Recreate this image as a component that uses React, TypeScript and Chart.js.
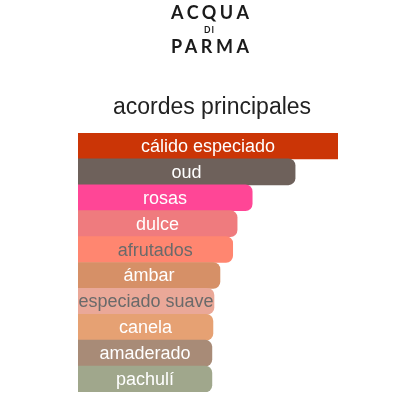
import React, { useEffect, useRef } from "react";
import { Chart, registerables } from "chart.js";

Chart.register(...registerables);

const categories = [
  "cálido especiado",
  "oud",
  "rosas",
  "dulce",
  "afrutados",
  "ámbar",
  "especiado suave",
  "canela",
  "amaderado",
  "pachulí",
];
const values = [100, 83.5, 67, 61.2, 59.5, 54.6, 52.3, 51.9, 51.5, 51.5];
const barColors = [
  "#CB3506",
  "#6E615B",
  "#FF4696",
  "#EF7B7E",
  "#FF8670",
  "#D69067",
  "#EAA898",
  "#E6A173",
  "#A88B77",
  "#A0A78C",
];
const labelColors = [
  "#ffffff",
  "#ffffff",
  "#ffffff",
  "#ffffff",
  "#6a6a6a",
  "#ffffff",
  "#6a6a6a",
  "#ffffff",
  "#ffffff",
  "#ffffff",
];

const labelPlugin = {
  id: "barLabels",
  afterDatasetsDraw(chart: any) {
    const ctx = chart.ctx;
    const meta = chart.getDatasetMeta(0);
    ctx.save();
    ctx.font = '18px "Liberation Sans", Arial, sans-serif';
    ctx.textAlign = "center";
    ctx.textBaseline = "middle";
    meta.data.forEach((bar: any, i: number) => {
      const cx = (bar.base + bar.x) / 2;
      ctx.fillStyle = labelColors[i];
      ctx.fillText(categories[i], cx, bar.y + 1);
    });
    ctx.restore();
  },
};

export default function App() {
  const ref = useRef<HTMLCanvasElement | null>(null);
  useEffect(() => {
    if (!ref.current) return;
    const chart = new Chart(ref.current, {
      type: "bar",
      data: {
        labels: categories,
        datasets: [
          {
            data: values,
            backgroundColor: barColors,
            borderWidth: 0,
            borderSkipped: "start",
            borderRadius: (c: any) => (c.dataIndex === 0 ? 0 : 7),
            categoryPercentage: 1,
            barPercentage: 1,
          },
        ],
      },
      options: {
        indexAxis: "y",
        animation: false,
        responsive: false,
        devicePixelRatio: 1,
        layout: { padding: { left: 78, right: 62, top: 133, bottom: 8 } },
        scales: {
          x: { display: false, min: 0, max: 100 },
          y: { display: false },
        },
        plugins: {
          legend: { display: false },
          tooltip: { enabled: false },
          title: { display: false },
        },
      },
      plugins: [labelPlugin],
    } as any);
    return () => chart.destroy();
  }, []);

  const logoFont = 'Lato, "DejaVu Sans", sans-serif';
  const logoStyle = {
    position: "absolute" as const,
    left: 0,
    width: 423.5,
    textAlign: "center" as const,
    fontFamily: logoFont,
    fontWeight: 700,
    fontSize: 18,
    lineHeight: "18px",
    letterSpacing: 3.5,
    color: "#1a1a1a",
  };
  return (
    <div style={{ position: "fixed", left: 0, top: 0, width: 400, height: 400, background: "#fff" }}>
      <canvas ref={ref} width={400} height={400} style={{ position: "absolute", left: 0, top: 0 }} />
      <div style={{ ...logoStyle, top: 3 }}>ACQUA</div>
      <div
        style={{
          position: "absolute",
          left: 0,
          width: 419,
          top: 26,
          textAlign: "center",
          fontFamily: logoFont,
          fontWeight: 700,
          fontSize: 8.5,
          lineHeight: "8px",
          letterSpacing: 1,
          color: "#1a1a1a",
        }}
      >
        DI
      </div>
      <div style={{ ...logoStyle, top: 37 }}>PARMA</div>
      <div
        style={{
          position: "absolute",
          left: 0,
          width: 424,
          top: 95,
          textAlign: "center",
          fontFamily: '"Liberation Sans", Arial, sans-serif',
          fontSize: 23,
          lineHeight: "23px",
          color: "#222",
        }}
      >
        acordes principales
      </div>
    </div>
  );
}
